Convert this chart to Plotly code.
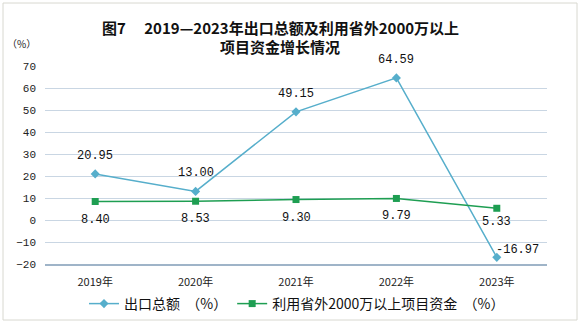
import plotly.graph_objects as go

years = ["2019年", "2020年", "2021年", "2022年", "2023年"]
export_growth = [20.95, 13.00, 49.15, 64.59, -16.97]
fund_growth = [8.40, 8.53, 9.30, 9.79, 5.33]
export_labels = ["20.95", "13.00", "49.15", "64.59", "-16.97"]
fund_labels = ["8.40", "8.53", "9.30", "9.79", "5.33"]
y_ticks = [-20, -10, 0, 10, 20, 30, 40, 50, 60, 70]

blue = "#56AECB"
green = "#1E9E52"
cjk = "Noto Sans CJK SC"
mono = "Liberation Mono"

fig = go.Figure()
fig.add_trace(go.Scatter(
    x=years, y=export_growth, mode="lines+markers",
    name="出口总额  （%）",
    line=dict(color=blue, width=1.5),
    marker=dict(symbol="diamond", size=7, color=blue),
))
fig.add_trace(go.Scatter(
    x=years, y=fund_growth, mode="lines+markers",
    name="利用省外2000万以上项目资金  （%）",
    line=dict(color=green, width=1.5),
    marker=dict(symbol="square", size=7, color=green),
))

annotations = []
for i, (yr, v, t) in enumerate(zip(years, export_growth, export_labels)):
    if v < 0:
        annotations.append(dict(x=yr, y=v, xref="x", yref="y", text=t, showarrow=False,
                                xshift=21, yshift=7,
                                font=dict(family=mono, size=12, color="#111")))
    else:
        annotations.append(dict(x=yr, y=v, xref="x", yref="y", text=t, showarrow=False,
                                yshift=18,
                                font=dict(family=mono, size=12, color="#111")))
for i, (yr, v, t) in enumerate(zip(years, fund_growth, fund_labels)):
    shift = -14 if i == 4 else -18
    annotations.append(dict(x=yr, y=v, xref="x", yref="y", text=t, showarrow=False,
                            yshift=shift,
                            font=dict(family=mono, size=12, color="#111")))

title_x = (280 - 45) / 502
annotations.append(dict(x=title_x, y=1.0, xref="paper", yref="paper", yshift=39,
                        text="<b>图7　 2019—2023年出口总额及利用省外2000万以上</b>",
                        showarrow=False, yanchor="middle",
                        font=dict(family=cjk, size=15, color="#111")))
annotations.append(dict(x=title_x, y=1.0, xref="paper", yref="paper", yshift=20,
                        text="<b>项目资金增长情况</b>",
                        showarrow=False, yanchor="middle",
                        font=dict(family=cjk, size=15, color="#111")))
annotations.append(dict(x=0, y=1.0, xref="paper", yref="paper", xshift=-7, yshift=23,
                        text="（%）", showarrow=False, xanchor="right", yanchor="middle",
                        font=dict(family=cjk, size=10, color="#222")))

fig.update_layout(
    width=580, height=323,
    margin=dict(l=45, r=33, t=66, b=59, autoexpand=False),
    paper_bgcolor="white", plot_bgcolor="white",
    showlegend=True,
    legend=dict(orientation="h", x=(297 - 45) / 502, xanchor="center",
                y=-40 / 198, yanchor="middle",
                font=dict(family=cjk, size=14, color="#111"), itemwidth=30,
                tracegroupgap=0, bgcolor="rgba(0,0,0,0)"),
    xaxis=dict(type="category", range=[-0.5, 4.5], showgrid=False,
               showline=True, linecolor="#9FB4C8", linewidth=2,
               ticks="", ticklabelstandoff=7,
               tickfont=dict(family=cjk, size=11, color="#222")),
    yaxis=dict(range=[-20, 70], tickvals=y_ticks, showgrid=True,
               gridcolor="#C9D6E3", gridwidth=1, zeroline=False,
               ticks="", ticklabelstandoff=8,
               tickfont=dict(family=mono, size=11, color="#222")),
    annotations=annotations,
    shapes=[dict(type="rect", xref="paper", yref="paper",
                 x0=-42/502, x1=1 + 30/502, y0=-56/198, y1=1 + 63/198,
                 line=dict(color="#D8D8D0", width=1), fillcolor="rgba(0,0,0,0)")],
)

fig.write_html("out.html")
